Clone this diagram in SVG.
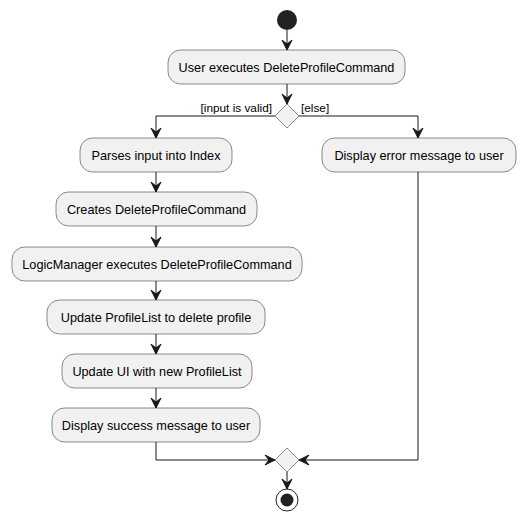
<svg xmlns="http://www.w3.org/2000/svg" width="525" height="524" viewBox="0 0 525 524">
<style>
.box{fill:#F1F1F1;stroke:#181818;stroke-width:0.5}
.t{font-family:"Liberation Sans",Arial,sans-serif;font-size:12.7px;fill:#000;text-anchor:middle}
.lbl{font-family:"Liberation Sans",Arial,sans-serif;font-size:11.8px;fill:#000}
.ln{fill:none;stroke:#181818;stroke-width:1}
.ah{fill:#181818;stroke:#181818;stroke-width:1}
</style>
<defs>
<polygon id="ad" points="0,0 -5,-10 0,-6 5,-10"/>
<polygon id="ar" points="0,0 -10,-5 -6,0 -10,5"/>
<polygon id="al" points="0,0 10,-5 6,0 10,5"/>
</defs>
<rect width="525" height="524" fill="#fff"/>
<g id="start"><circle cx="287" cy="20" r="10" fill="#222"/></g>
<g id="n1"><rect class="box" x="168" y="50" width="237" height="34" rx="12.5"/><text class="t" x="286.5" y="72">User executes DeleteProfileCommand</text></g>
<g id="d1"><polygon class="box" points="287,104 299,116 287,128 275,116"/></g>
<g id="n2"><rect class="box" x="80" y="138" width="152" height="34" rx="12.5"/><text class="t" x="156" y="160">Parses input into Index</text></g>
<g id="n3"><rect class="box" x="56" y="192" width="201" height="34" rx="12.5"/><text class="t" x="156.5" y="214">Creates DeleteProfileCommand</text></g>
<g id="n4"><rect class="box" x="12" y="247" width="290" height="34" rx="12.5"/><text class="t" x="157" y="269">LogicManager executes DeleteProfileCommand</text></g>
<g id="n5"><rect class="box" x="47" y="300" width="218" height="34" rx="12.5"/><text class="t" x="156" y="322">Update ProfileList to delete profile</text></g>
<g id="n6"><rect class="box" x="62" y="354" width="190" height="34" rx="12.5"/><text class="t" x="157" y="376">Update UI with new ProfileList</text></g>
<g id="n7"><rect class="box" x="52" y="408" width="208" height="34" rx="12.5"/><text class="t" x="156" y="430">Display success message to user</text></g>
<g id="n8"><rect class="box" x="322" y="138" width="194" height="34" rx="12.5"/><text class="t" x="419" y="160">Display error message to user</text></g>
<g id="d2"><polygon class="box" points="287,448 299,460 287,472 275,460"/></g>
<g id="end"><circle cx="287" cy="500" r="11" fill="none" stroke="#222" stroke-width="1"/><circle cx="287" cy="500" r="6.5" fill="#222"/></g>
<g id="connectors">
<path class="ln" d="M287,30 V50"/><use href="#ad" class="ah" x="287" y="50"/>
<path class="ln" d="M287,84 V104"/><use href="#ad" class="ah" x="287" y="104"/>
<path class="ln" d="M275,116 H156 V138"/><use href="#ad" class="ah" x="156" y="138"/>
<path class="ln" d="M299,116 H418 V138"/><use href="#ad" class="ah" x="418" y="138"/>
<path class="ln" d="M156,172 V192"/><use href="#ad" class="ah" x="156" y="192"/>
<path class="ln" d="M156,226 V247"/><use href="#ad" class="ah" x="156" y="247"/>
<path class="ln" d="M156,281 V300"/><use href="#ad" class="ah" x="156" y="300"/>
<path class="ln" d="M156,334 V354"/><use href="#ad" class="ah" x="156" y="354"/>
<path class="ln" d="M156,388 V408"/><use href="#ad" class="ah" x="156" y="408"/>
<path class="ln" d="M156,442 V460 H275"/><use href="#ar" class="ah" x="275" y="460"/>
<path class="ln" d="M418,172 V460 H299"/><use href="#al" class="ah" x="299" y="460"/>
<path class="ln" d="M287,472 V489"/><use href="#ad" class="ah" x="287" y="489"/>
<text class="lbl" x="272" y="112" text-anchor="end">[input is valid]</text>
<text class="lbl" x="301" y="112">[else]</text>
</g>
</svg>
